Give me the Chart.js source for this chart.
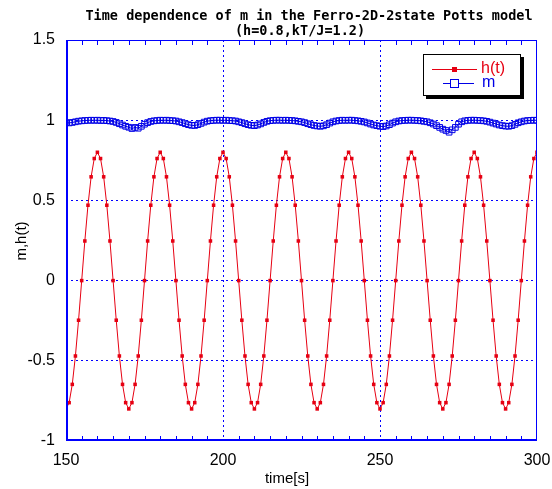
<!DOCTYPE html>
<html>
<head>
<meta charset="utf-8">
<script src="https://cdn.jsdelivr.net/npm/chart.js@4"></script>
<style>
  html, body { margin: 0; padding: 0; background: #fff; }
  #wrap { width: 552px; height: 489px; }
</style>
</head>
<body>
<div id="wrap"><canvas id="chartContainer"></canvas></div>
<script>
"use strict";

// 1: data
const times = [
  150, 151, 152, 153, 154, 155, 156, 157, 158, 159, 160, 161, 162, 163, 164, 165, 166, 167, 168, 169,
  170, 171, 172, 173, 174, 175, 176, 177, 178, 179, 180, 181, 182, 183, 184, 185, 186, 187, 188, 189,
  190, 191, 192, 193, 194, 195, 196, 197, 198, 199, 200, 201, 202, 203, 204, 205, 206, 207, 208, 209,
  210, 211, 212, 213, 214, 215, 216, 217, 218, 219, 220, 221, 222, 223, 224, 225, 226, 227, 228, 229,
  230, 231, 232, 233, 234, 235, 236, 237, 238, 239, 240, 241, 242, 243, 244, 245, 246, 247, 248, 249,
  250, 251, 252, 253, 254, 255, 256, 257, 258, 259, 260, 261, 262, 263, 264, 265, 266, 267, 268, 269,
  270, 271, 272, 273, 274, 275, 276, 277, 278, 279, 280, 281, 282, 283, 284, 285, 286, 287, 288, 289,
  290, 291, 292, 293, 294, 295, 296, 297, 298, 299, 300
];

const hValues = [
  -0.8, -0.761, -0.647, -0.47, -0.247, 0, 0.247, 0.47, 0.647, 0.761, 0.8, 0.761, 0.647, 0.47, 0.247, 0, -0.247, -0.47, -0.647, -0.761,
  -0.8, -0.761, -0.647, -0.47, -0.247, 0, 0.247, 0.47, 0.647, 0.761, 0.8, 0.761, 0.647, 0.47, 0.247, 0, -0.247, -0.47, -0.647, -0.761,
  -0.8, -0.761, -0.647, -0.47, -0.247, 0, 0.247, 0.47, 0.647, 0.761, 0.8, 0.761, 0.647, 0.47, 0.247, 0, -0.247, -0.47, -0.647, -0.761,
  -0.8, -0.761, -0.647, -0.47, -0.247, 0, 0.247, 0.47, 0.647, 0.761, 0.8, 0.761, 0.647, 0.47, 0.247, 0, -0.247, -0.47, -0.647, -0.761,
  -0.8, -0.761, -0.647, -0.47, -0.247, 0, 0.247, 0.47, 0.647, 0.761, 0.8, 0.761, 0.647, 0.47, 0.247, 0, -0.247, -0.47, -0.647, -0.761,
  -0.8, -0.761, -0.647, -0.47, -0.247, 0, 0.247, 0.47, 0.647, 0.761, 0.8, 0.761, 0.647, 0.47, 0.247, 0, -0.247, -0.47, -0.647, -0.761,
  -0.8, -0.761, -0.647, -0.47, -0.247, 0, 0.247, 0.47, 0.647, 0.761, 0.8, 0.761, 0.647, 0.47, 0.247, 0, -0.247, -0.47, -0.647, -0.761,
  -0.8, -0.761, -0.647, -0.47, -0.247, 0, 0.247, 0.47, 0.647, 0.761, 0.8
];

const mValues = [
  0.985, 0.983, 0.986, 0.99, 0.994, 0.996, 0.998, 0.999, 1.0, 0.999, 1.0, 0.998, 0.999, 0.997, 0.995, 0.992, 0.986, 0.978, 0.97, 0.962,
  0.956, 0.948, 0.955, 0.95, 0.962, 0.975, 0.985, 0.992, 0.996, 0.998, 1.0, 0.999, 1.0, 0.998, 0.997, 0.995, 0.99, 0.985, 0.978, 0.972,
  0.968, 0.967, 0.972, 0.98, 0.988, 0.994, 0.997, 0.999, 1.0, 1.0, 0.999, 1.0, 0.998, 0.997, 0.995, 0.99, 0.985, 0.978, 0.972, 0.968,
  0.966, 0.97, 0.977, 0.986, 0.993, 0.997, 0.999, 1.0, 1.0, 0.999, 1.0, 0.999, 0.998, 0.996, 0.993, 0.99, 0.985, 0.978, 0.972, 0.967,
  0.964, 0.962, 0.965, 0.972, 0.982, 0.99, 0.995, 0.998, 1.0, 0.999, 1.0, 1.0, 0.998, 0.996, 0.993, 0.989, 0.983, 0.976, 0.97, 0.966,
  0.962, 0.96, 0.964, 0.972, 0.982, 0.99, 0.995, 0.998, 0.999, 1.0, 1.0, 0.999, 0.998, 0.996, 0.993, 0.99, 0.984, 0.976, 0.966, 0.955,
  0.944, 0.936, 0.925, 0.94, 0.955, 0.975, 0.99, 0.996, 0.999, 1.0, 1.0, 0.999, 0.998, 0.996, 0.993, 0.988, 0.982, 0.976, 0.97, 0.966,
  0.963, 0.962, 0.966, 0.974, 0.984, 0.99, 0.995, 0.998, 0.999, 1.0, 0.999
];

const xMinorTicks = [155, 160, 165, 170, 175, 180, 185, 190, 195, 205, 210, 215, 220, 225, 230, 235, 240, 245,
  255, 260, 265, 270, 275, 280, 285, 290, 295];

const titleLines = ['Time dependence of m in the Ferro-2D-2state Potts model', '(h=0.8,kT/J=1.2)'];
const xTitle = 'time[s]';
const yTitle = 'm,h(t)';

const RED = '#e60012';
const BLUE = '#0000e6';
const FRAME = '#0000ff';
const tickFont = '"Liberation Sans", sans-serif';

// 2: prepare data for chart
function toPoints(xs, ys) {
  let pts = [];
  for (let i = 0; i < xs.length; i++) pts.push({ x: xs[i], y: ys[i] });
  return pts;
}

// 3: decorations (title, frame, minor ticks, legend)
const decor = {
  id: 'decor',
  afterDraw(chart) {
    const ctx = chart.ctx;
    const a = chart.chartArea;
    const xs = chart.scales.x;
    ctx.save();

    // frame
    ctx.strokeStyle = FRAME;
    ctx.lineWidth = 1;
    ctx.strokeRect(a.left + 0.5, a.top + 0.5, a.right - a.left - 1, a.bottom - a.top - 1);
    ctx.lineWidth = 2;
    ctx.beginPath();
    ctx.moveTo(a.left + 1, a.top);
    ctx.lineTo(a.left + 1, a.bottom);
    ctx.moveTo(a.left, a.bottom - 1);
    ctx.lineTo(a.right, a.bottom - 1);
    ctx.stroke();

    // minor ticks on x (top and bottom, inward)
    ctx.lineWidth = 1;
    ctx.beginPath();
    for (const v of xMinorTicks) {
      const px = Math.round(xs.getPixelForValue(v)) + 0.5;
      ctx.moveTo(px, a.bottom);
      ctx.lineTo(px, a.bottom - 5);
      ctx.moveTo(px, a.top);
      ctx.lineTo(px, a.top + 5);
    }
    ctx.stroke();

    // title
    ctx.fillStyle = '#000';
    ctx.textAlign = 'center';
    ctx.textBaseline = 'middle';
    ctx.font = 'bold 13.5px "DejaVu Sans Mono", monospace';
    ctx.fillText(titleLines[0], 309, 16);
    ctx.fillText(titleLines[1], 300, 31);

    // axis titles
    ctx.font = '15px ' + tickFont;
    ctx.fillText(xTitle, 287, 479);
    ctx.save();
    ctx.translate(22, 241);
    ctx.rotate(-Math.PI / 2);
    ctx.fillText(yTitle, 0, 0);
    ctx.restore();

    // legend box with shadow
    const bx = 423, by = 54, bw = 98, bh = 42;
    ctx.fillStyle = '#000';
    ctx.fillRect(bx + 3, by + 3, bw, bh);
    ctx.fillStyle = '#fff';
    ctx.fillRect(bx, by, bw, bh);
    ctx.strokeStyle = '#000';
    ctx.lineWidth = 1;
    ctx.strokeRect(bx + 0.5, by + 0.5, bw - 1, bh - 1);

    const ds = chart.data.datasets;
    ctx.textAlign = 'left';
    ctx.font = '16px ' + tickFont;
    // h(t)
    ctx.strokeStyle = ds[0].borderColor;
    ctx.fillStyle = ds[0].borderColor;
    ctx.beginPath();
    ctx.moveTo(432, 69.5);
    ctx.lineTo(477, 69.5);
    ctx.stroke();
    ctx.fillRect(452, 67, 5, 5);
    ctx.fillText(ds[0].label, 481, 69);
    // m
    ctx.strokeStyle = ds[1].borderColor;
    ctx.fillStyle = ds[1].borderColor;
    ctx.beginPath();
    ctx.moveTo(443, 83.5);
    ctx.lineTo(474, 83.5);
    ctx.stroke();
    ctx.fillStyle = '#fff';
    ctx.fillRect(450, 79, 8, 8);
    ctx.strokeRect(450.5, 79.5, 8, 8);
    ctx.fillStyle = ds[1].borderColor;
    ctx.fillText(ds[1].label, 482, 83);

    ctx.restore();
  }
};

function gridColor(ctx) {
  if (ctx.index === 0 || (ctx.scale && ctx.index === ctx.scale.ticks.length - 1)) return 'rgba(0,0,0,0)';
  return FRAME;
}

// 4: create the chart
function appendChart() {
  const container = document.getElementById('chartContainer');
  new Chart(container, {
    type: 'line',
    data: {
      datasets: [{
        label: 'h(t)',
        data: toPoints(times, hValues),
        borderColor: RED,
        backgroundColor: RED,
        borderWidth: 1,
        pointStyle: 'rect',
        pointRadius: 2.5,
        pointBorderWidth: 0,
        tension: 0
      }, {
        label: 'm',
        data: toPoints(times, mValues),
        borderColor: BLUE,
        backgroundColor: 'rgba(0,0,0,0)',
        borderWidth: 1,
        pointStyle: 'rect',
        pointRadius: 4,
        pointBorderWidth: 1,
        pointBorderColor: BLUE,
        pointBackgroundColor: 'rgba(0,0,0,0)',
        tension: 0
      }]
    },
    options: {
      responsive: true,
      maintainAspectRatio: false,
      animation: false,
      layout: { padding: { top: 40, right: 15, left: 0, bottom: 0 } },
      plugins: {
        legend: { display: false },
        title: { display: false },
        tooltip: { enabled: false }
      },
      scales: {
        x: {
          type: 'linear',
          min: 150,
          max: 300,
          afterFit(scale) {
            scale.height = 48;
            scale.paddingLeft = 0;
            scale.paddingRight = 0;
          },
          border: { display: false, dash: [2, 3] },
          grid: {
            color: gridColor,
            lineWidth: 1,
            drawTicks: false
          },
          ticks: {
            stepSize: 50,
            padding: 10,
            color: '#000',
            font: { family: tickFont, size: 16 },
            maxRotation: 0
          }
        },
        y: {
          min: -1,
          max: 1.5,
          afterFit(scale) {
            scale.width = 66;
            scale.paddingTop = 0;
            scale.paddingBottom = 0;
          },
          border: { display: false, dash: [2, 3] },
          grid: {
            color: gridColor,
            lineWidth: 1,
            drawTicks: false
          },
          ticks: {
            stepSize: 0.5,
            padding: 11,
            color: '#000',
            font: { family: tickFont, size: 16 },
            callback: (v) => String(v)
          }
        }
      }
    },
    plugins: [decor]
  });
}

appendChart();
</script>
</body>
</html>
